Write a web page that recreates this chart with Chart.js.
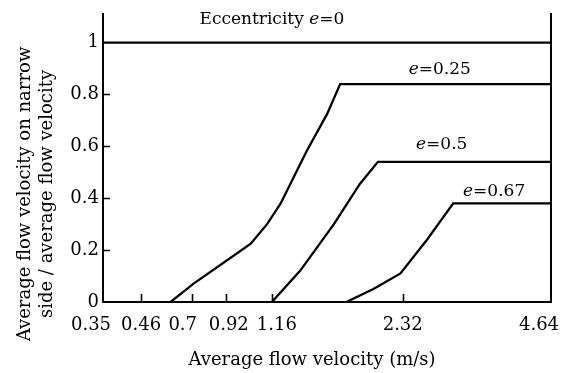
<!DOCTYPE html>
<html>
<head>
<meta charset="utf-8">
<script src="https://cdn.jsdelivr.net/npm/chart.js@4.4.1/dist/chart.umd.min.js"></script>
<style>
  html, body { margin: 0; padding: 0; background: #fff; }
  #wrap { width: 561px; height: 373px; }
</style>
</head>
<body>
<div id="wrap"><canvas id="chart" width="561" height="373"></canvas></div>
<script>
// ticks
const xTickValues = [0.35, 0.46, 0.7, 0.92, 1.16, 2.32, 4.64];
const yTickValues = [0, 0.2, 0.4, 0.6, 0.8, 1];

// one curve per eccentricity
const e0X = [0.35, 4.64];
const e0Y = [1, 1];
const e25X = [0.6, 0.71, 0.925, 1.05, 1.135, 1.235, 1.47, 1.65, 1.765, 4.64];
const e25Y = [0, 0.07, 0.16, 0.225, 0.3, 0.378, 0.583, 0.725, 0.84, 0.84];
const e50X = [1.16, 1.41, 1.71, 1.94, 2.1, 4.64];
const e50Y = [0, 0.12, 0.3, 0.455, 0.54, 0.54];
const e67X = [1.82, 2.06, 2.3, 2.7, 3.11, 4.64];
const e67Y = [0, 0.05, 0.11, 0.24, 0.38, 0.38];

const eValues = ['0', '0.25', '0.5', '0.67'];
const labelPrefix = ['Eccentricity ', '', '', ''];

const xTitle = 'Average flow velocity (m/s)';
const yTitle = ['Average flow velocity on narrow', 'side / average flow velocity'];

// ---- layout ----
// the x axis is not to scale in the original: where each tick sits (0..1 along the axis)
const xTickPlace = [0, 0.085, 0.198, 0.274, 0.377, 0.669, 1];
// small sideways shifts of some tick labels, as in the figure
const xLabelNudge = [-12, 0, -9, 3, 5, 0, -12];
// anchor of each curve label, in data units (centre x, baseline y)
const labelAtX = [1.16, 2.9, 2.93, 3.75];
const labelAtY = [1.073, 0.88, 0.591, 0.41];

const ink = '#000';
const serif = '"DejaVu Serif", serif';

class SegmentScale extends Chart.LinearScale {
  static id = 'segment';
  static defaults = Chart.LinearScale.defaults;

  toDecimal(v) {
    const t = xTickValues;
    let i = 0;
    while (i < t.length - 2 && v > t[i + 1]) i++;
    const f = (v - t[i]) / (t[i + 1] - t[i]);
    return xTickPlace[i] + f * (xTickPlace[i + 1] - xTickPlace[i]);
  }
  getPixelForValue(v) {
    return this.getPixelForDecimal(this.toDecimal(v));
  }
  getValueForPixel(p) {
    const d = this.getDecimalForPixel(p);
    let i = 0;
    while (i < xTickPlace.length - 2 && d > xTickPlace[i + 1]) i++;
    const f = (d - xTickPlace[i]) / (xTickPlace[i + 1] - xTickPlace[i]);
    return xTickValues[i] + f * (xTickValues[i + 1] - xTickValues[i]);
  }
  getPixelForTick(i) {
    return this.getPixelForValue(this.ticks[i].value) + (xLabelNudge[i] || 0);
  }
  buildTicks() {
    super.buildTicks();
    return xTickValues.map(v => ({ value: v }));
  }
}
Chart.register(SegmentScale);

function points(xs, ys) {
  return xs.map((x, i) => ({ x: x, y: ys[i] }));
}

const curves = [[e0X, e0Y], [e25X, e25Y], [e50X, e50Y], [e67X, e67Y]];

const inwardTicks = {
  id: 'inwardTicks',
  afterDatasetsDraw(chart) {
    const { ctx, chartArea: a, scales: { x, y } } = chart;
    ctx.save();
    ctx.strokeStyle = ink;
    ctx.lineWidth = 1.6;
    ctx.beginPath();
    xTickValues.slice(1, -1).forEach(v => {
      const px = Math.round(x.getPixelForValue(v)) + 0.5;
      ctx.moveTo(px, a.bottom);
      ctx.lineTo(px, a.bottom - 8);
    });
    yTickValues.slice(1, -1).forEach(v => {
      const py = Math.round(y.getPixelForValue(v)) + 0.5;
      ctx.moveTo(a.left, py);
      ctx.lineTo(a.left + 7, py);
    });
    ctx.stroke();
    ctx.restore();
  }
};

const curveLabels = {
  id: 'curveLabels',
  afterDatasetsDraw(chart) {
    const { ctx, scales: { x, y } } = chart;
    const up = '17px ' + serif;
    const it = 'italic 17px ' + serif;
    ctx.save();
    ctx.fillStyle = ink;
    ctx.textBaseline = 'alphabetic';
    ctx.textAlign = 'left';
    eValues.forEach((val, i) => {
      const parts = [[labelPrefix[i], up], ['e', it], ['=' + val, up]];
      let w = 0;
      parts.forEach(p => { ctx.font = p[1]; w += ctx.measureText(p[0]).width; });
      let cx = x.getPixelForValue(labelAtX[i]) - w / 2;
      const by = y.getPixelForValue(labelAtY[i]);
      parts.forEach(p => {
        ctx.font = p[1];
        ctx.fillText(p[0], cx, by);
        cx += ctx.measureText(p[0]).width;
      });
    });
    ctx.restore();
  }
};

const axisTitles = {
  id: 'axisTitles',
  afterDraw(chart) {
    const { ctx } = chart;
    ctx.save();
    ctx.fillStyle = ink;
    ctx.font = '18px ' + serif;
    ctx.textAlign = 'center';
    ctx.textBaseline = 'alphabetic';
    ctx.fillText(xTitle, 312, 365);
    ctx.translate(0, 194);
    ctx.rotate(-Math.PI / 2);
    ctx.textBaseline = 'middle';
    ctx.fillText(yTitle[0], 0, 25);
    ctx.fillText(yTitle[1], 0, 47);
    ctx.restore();
  }
};

new Chart(document.getElementById('chart'), {
  type: 'line',
  data: {
    datasets: curves.map((c, i) => ({
      label: 'e=' + eValues[i],
      data: points(c[0], c[1]),
      borderColor: ink,
      borderWidth: 2.3,
      pointRadius: 0,
      fill: false,
      tension: 0
    }))
  },
  options: {
    responsive: false,
    animation: false,
    events: [],
    layout: { padding: { top: 14, left: 0, right: 0, bottom: 0 } },
    plugins: { legend: { display: false }, tooltip: { enabled: false } },
    scales: {
      x: {
        type: 'segment',
        min: 0.35,
        max: 4.64,
        grid: { display: false, drawTicks: true, tickLength: 14 },
        border: { display: true, color: ink, width: 2 },
        ticks: {
          autoSkip: false,
          maxRotation: 0,
          padding: 0,
          color: ink,
          font: { family: serif, size: 18, lineHeight: 1 },
          callback: v => String(v)
        },
        afterFit: s => { s.height = 71; }
      },
      y: {
        type: 'linear',
        min: 0,
        max: 1.11,
        grid: { display: false, drawTicks: false },
        border: { display: true, color: ink, width: 2 },
        ticks: {
          padding: 4,
          color: ink,
          font: { family: serif, size: 18, lineHeight: 1 },
          callback: v => String(v)
        },
        afterBuildTicks: s => { s.ticks = yTickValues.map(v => ({ value: v })); },
        afterFit: s => { s.width = 103; }
      },
      y2: {
        type: 'linear',
        position: 'right',
        grid: { display: false, drawTicks: false },
        border: { display: true, color: ink, width: 2 },
        ticks: { display: false },
        afterFit: s => { s.width = 10; }
      }
    }
  },
  plugins: [inwardTicks, curveLabels, axisTitles]
});
</script>
</body>
</html>
